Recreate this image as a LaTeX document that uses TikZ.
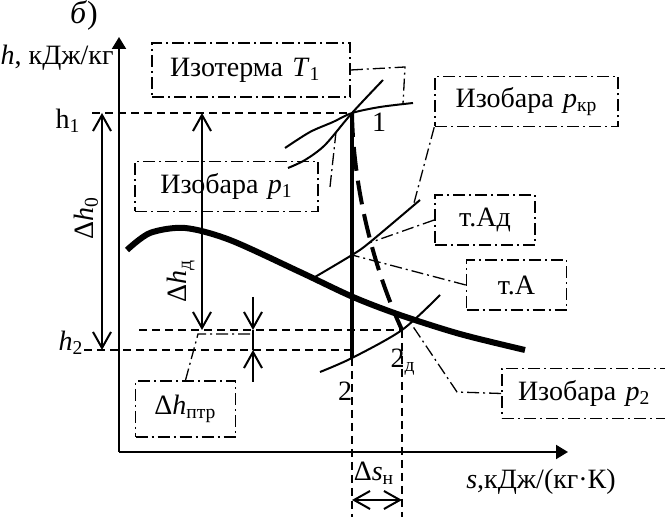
\documentclass[tikz,border=0pt]{standalone}
\usepackage{fontspec}
\setmainfont{Liberation Serif}
\usepackage{tikz}
\usetikzlibrary{arrows.meta,positioning,calc}
\tikzset{
  callout/.style={draw, dash pattern=on 6pt off 2pt on 1pt off 2pt,
                  line width=0.8pt, text width=#1, align=center,
                  minimum height=25pt, inner xsep=4pt, inner ysep=2pt},
  callout/.default=42pt,
  leader/.style ={dash pattern=on 6pt off 2pt on 1pt off 2pt, line width=0.65pt},
  guide/.style  ={dash pattern=on 4pt off 2.5pt, line width=0.75pt},
  axis/.style   ={-{Triangle[length=6pt,width=7pt]}, line width=1pt},
  dimarr/.style ={{Straight Barb[length=8pt,width=9pt]}-{Straight Barb[length=8pt,width=9pt]},
                  line width=1pt},
  onearr/.style ={-{Straight Barb[length=8pt,width=9pt]}, line width=1pt},
  iso/.style    ={line width=1pt},
}

\begin{document}
\begin{tikzpicture}[x=0.5pt,y=-0.5pt,font=\fontsize{14}{16}\selectfont]
  \useasboundingbox (0,0) rectangle (665,517);
  % states of the process
  \coordinate (P1)  at (352,113);
  \coordinate (P2)  at (352,358);
  \coordinate (P2d) at (402,330);
  \coordinate (A)   at (352,255);
  \coordinate (Ad)  at (369,243);
  \coordinate (O)   at (119,452);
  \coordinate (hEnd) at (119,37);
  \coordinate (sEnd) at (568,452);
  \draw[axis] (O) -- (hEnd);
  \draw[axis] (O) -- (sEnd);
  % levels
  \coordinate (h1L) at (92,113);
  \coordinate (h2L) at (84,350);
  \coordinate (h2R) at (352,350);
  \coordinate (hdL) at (139,330);
  \draw[guide] (h1L) -- (P1);
  \draw[guide] (h2L) -- (h2R);
  \draw[guide] (hdL) -- (P2d);
  \draw[guide] (P2) -- (P2 |- 0,517);
  \draw[guide] (P2d) -- (P2d |- 0,517);
  % dimensions
  \draw[dimarr] (102,113) -- (102,350);
  \draw[dimarr] (202,113) -- (202,330);
  \draw[dimarr] (352,500) -- (402,500);
  \coordinate (dpTop) at (253,297);
  \coordinate (dpBot) at (253,382);
  \draw[onearr] (dpTop) -- (253,330);
  \draw[onearr] (dpBot) -- (253,350);
  \draw[iso] (253,330) -- (253,350);
  % saturation line
  \draw[line width=3pt] plot[smooth] coordinates {(127,250) (150,233) (185,228)
    (230,240) (300,272) (353,297) (400,315) (460,334) (525,350)};
  % isolines
  \draw[iso] plot[smooth] coordinates {(288,168) (305,160) (325,145) (P1) (383,80)};
  \draw[iso] plot[smooth] coordinates {(285,148) (310,132) (333,122) (P1) (380,107) (413,103)};
  \draw[iso] plot[smooth] coordinates {(315,277) (A) (Ad) (420,200)};
  \draw[iso] plot[smooth] coordinates {(320,372) (P2) (P2d) (440,295)};
  % expansion
  \draw[line width=2pt] (P1) -- (P2);
  \draw[line width=2pt, dash pattern=on 12pt off 5pt] (P1) .. controls (353,180) and (370,260) .. (P2d);
  % callouts
  \node[callout=81pt, align=left, inner xsep=9pt, minimum height=27pt] (T1box) at (251,70)
    {Изотерма \textit{T}\textsubscript{1}};
  \node[callout=83.5pt] (p1box) at (226.5,186.5) {Изобара \textit{p}\textsubscript{1}};
  \node[callout=83.5pt] (pkrbox) at (526.5,101.5) {Изобара \textit{p}\textsubscript{кр}};
  \node[callout] (tAdbox) at (485,220) {т.Ад};
  \node[callout] (tAbox) at (516.5,285) {т.А};
  \node[callout=69pt, align=left, inner xsep=8pt] (p2box) at (587,393.5)
    {Изобара \textit{p}\textsubscript{2}};
  \node[callout, minimum height=28pt] (dhbox) at (185.5,409) {Δ\textit{h}\textsubscript{птр}};
  \coordinate (T1bend) at (405,67);
  \coordinate (T1end) at (403,104);
  \coordinate (p1start) at (330,187);
  \coordinate (p1end) at (336,132);
  \coordinate (pkrend) at (414,203);
  \coordinate (p2bend) at (457,392);
  \coordinate (p2end) at (412,325);
  \coordinate (dhbend) at (198,334);
  \coordinate (dhend) at (252,334);
  \draw[leader] (T1box.east) -- (T1bend) -- (T1end);
  \draw[leader] (p1start) -- (p1end);
  \draw[leader] (pkrbox.south west) -- (pkrend);
  \draw[leader] (tAdbox.west) -- (Ad);
  \draw[leader] (tAbox.west) -- (A);
  \draw[leader] (p2box.west) -- (p2bend) -- (p2end);
  \draw[leader] (dhbox.north) -- (dhbend) -- (dhend);
  % labels
  \node[font=\fontsize{16}{18}\selectfont] (lblB) at (84,15) {\textit{б})};
  \node[anchor=east, inner sep=0pt] (lblH) at (114,58) {\textit{h}, кДж/кг};
  \node (lblH1) at (68,121) {h\textsubscript{1}};
  \node (lblH2) at (71,343) {\textit{h}\textsubscript{2}};
  \node[rotate=90] (lblDh0) at (86,218) {Δ\textit{h}\textsubscript{0}};
  \node[rotate=90] (lblDhd) at (181,281) {Δ\textit{h}\textsubscript{д}};
  \node (lbl1) at (379,122) {1};
  \node (lbl2) at (345,391) {2};
  \node (lbl2d) at (403,362) {2\textsubscript{д}};
  \node (lblDs) at (374,473) {Δ\textit{s}\textsubscript{н}};
  \node (lblS) at (541,482) {\textit{s},кДж/(кг·К)};
\end{tikzpicture}
\end{document}
